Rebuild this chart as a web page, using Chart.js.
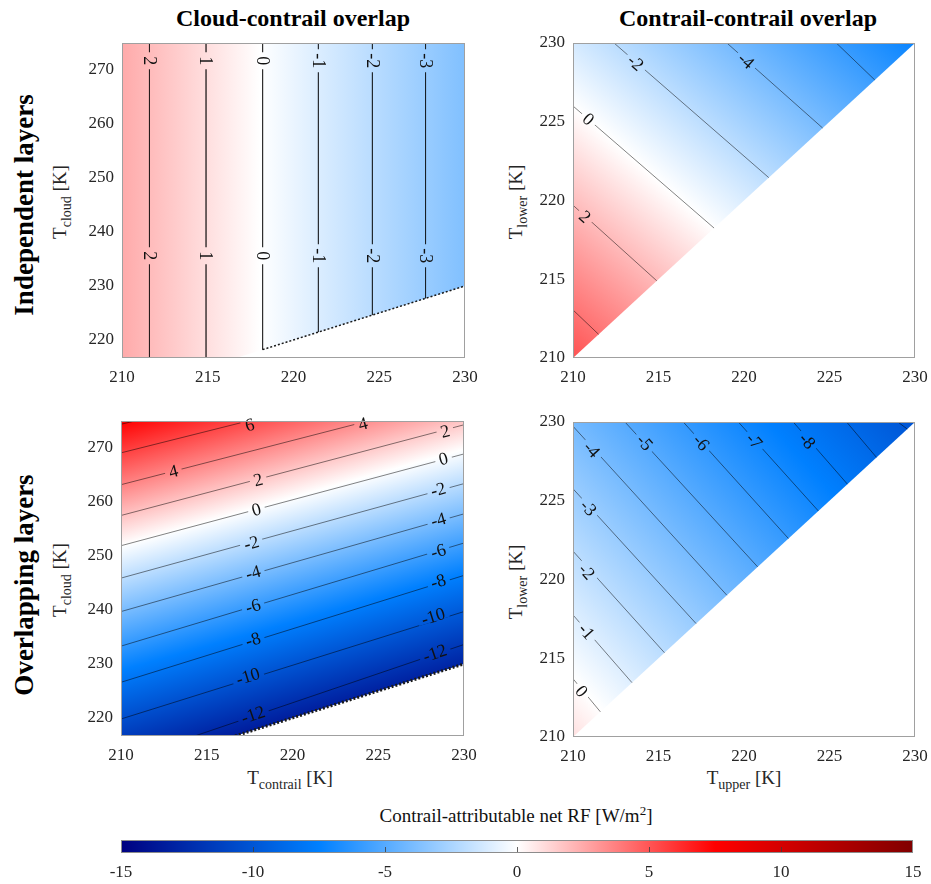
<!DOCTYPE html>
<html>
<head>
<meta charset="utf-8">
<script src="https://cdn.jsdelivr.net/npm/chart.js@4.4.1/dist/chart.umd.min.js"></script>
<style>
  html, body { margin: 0; padding: 0; background: #fff; overflow: hidden; }
  #page { position: relative; width: 931px; height: 884px; font-family: 'Liberation Serif', 'Times New Roman', serif; color: #000; }
  canvas { position: absolute; }
  .txt { position: absolute; white-space: nowrap; transform: translate(-50%, -50%); }
  .txt.rot { transform: translate(-50%, -50%) rotate(-90deg); }
  .title { font-weight: bold; font-size: 24px; }
  .row { font-weight: bold; font-size: 27px; }
  .axis { font-size: 19px; color: #262626; }
  .axis sub { font-size: 14px; vertical-align: -5px; }
  .cbar { font-size: 19px; color: #111; }
  .cbar sup { font-size: 13px; vertical-align: 7px; }
</style>
</head>
<body>
<div id="page">
  <div class="txt title" style="left:293px; top:18px;">Cloud-contrail overlap</div>
  <div class="txt title" style="left:748px; top:18px;">Contrail-contrail overlap</div>
  <div class="txt row rot" style="left:24px; top:205px;">Independent layers</div>
  <div class="txt row rot" style="left:24px; top:585px;">Overlapping layers</div>

  <div class="txt axis rot" style="left:62px; top:202px;">T<sub>cloud</sub> [K]</div>
  <div class="txt axis rot" style="left:518px; top:202px;">T<sub>lower</sub> [K]</div>
  <div class="txt axis rot" style="left:62px; top:580px;">T<sub>cloud</sub> [K]</div>
  <div class="txt axis rot" style="left:518px; top:582px;">T<sub>lower</sub> [K]</div>
  <div class="txt axis" style="left:290px; top:780px;">T<sub>contrail</sub> [K]</div>
  <div class="txt axis" style="left:744px; top:780px;">T<sub>upper</sub> [K]</div>
  <div class="txt cbar" style="left:516px; top:815px;">Contrail-attributable net RF [W/m<sup>2</sup>]</div>

  <canvas id="indepCloud" width="425" height="355" style="left:62px; top:33px;"></canvas>
  <canvas id="indepContrail" width="418" height="355" style="left:513px; top:33px;"></canvas>
  <canvas id="overlapCloud" width="425" height="355" style="left:61px; top:411px;"></canvas>
  <canvas id="overlapContrail" width="418" height="355" style="left:513px; top:412px;"></canvas>
  <canvas id="colorbar" width="832" height="53" style="left:101px; top:835px;"></canvas>
</div>

<script>
const fontFamily = "'Liberation Serif', 'Times New Roman', serif";
Chart.defaults.font.family = fontFamily;

// Colour map knots [value, colour] and colour bar ticks
const rfColormap = [[-15, '#000080'], [-7.5, '#0080ff'], [0, '#ffffff'], [7.5, '#ff0000'], [15, '#800000']];
const rfTicks = [-15, -10, -5, 0, 5, 10, 15];

// Axis ranges and ticks
const tContrailRange = [210, 230];
const tCloudRange = [216.65, 275];
const tPairRange = [210, 230];
const tContrailTicks = [210, 215, 220, 225, 230];
const tCloudTicks = [220, 230, 240, 250, 260, 270];
const tPairTicks = [210, 215, 220, 225, 230];

// Field anchors: [x, y, value, dvalue/dx, dvalue/dy]

// Independent layers, cloud-contrail
const indepCloudLevels = [2, 1, 0, -1, -2, -3];
const indepCloudLines = [
  [[211.6, 275], [211.6, 216.65]],
  [[214.9, 275], [214.9, 216.65]],
  [[218.2, 275], [218.2, 218.2]],
  [[221.45, 275], [221.45, 221.45]],
  [[224.6, 275], [224.6, 224.6]],
  [[227.7, 275], [227.7, 227.7]],
];
const indepCloudLabels = [
  [2, 211.6, 271.7], [1, 214.9, 271.7], [0, 218.2, 271.7], [-1, 221.45, 271.7], [-2, 224.6, 271.7], [-3, 227.7, 271.7],
  [2, 211.6, 235.6], [1, 214.9, 235.6], [0, 218.2, 235.6], [-1, 221.45, 235.6], [-2, 224.6, 235.6], [-3, 227.7, 235.6],
];
const indepCloudField = [211.6, 250, 2, -0.311, 0];
const indepCloudRegion = [[210, 216.65], [210, 275], [230, 275], [230, 230], [216.65, 216.65]];
const indepCloudEdge = [[218.2, 218.2], [230, 230]];

// Independent layers, contrail-contrail
const indepPairLevels = [4, 2, 0, -2, -4, -6];
const indepPairLines = [
  [[210, 213.05], [211.5, 211.5]],
  [[210, 219.7], [214.9, 214.9]],
  [[210, 226.0], [218.25, 218.25]],
  [[212.4, 230], [221.45, 221.45]],
  [[219.0, 230], [224.6, 224.6]],
  [[225.4, 230], [227.65, 227.65]],
];
const indepPairLabels = [[2, 210.7, 218.97], [0, 210.9, 225.16], [-2, 213.67, 228.75], [-4, 220.13, 228.88]];
const indepPairField = [210, 219.7, 2, -0.30, -0.317];
const pairRegion = [[210, 210], [210, 230], [230, 230]];

// Overlapping layers, cloud-contrail
const overlapCloudLevels = [8, 6, 4, 2, 0, -2, -4, -6, -8, -10, -12];
const overlapCloudLines = [
  [[210, 274.4], [210.8, 275]],
  [[210, 269.1], [217.4, 275]],
  [[210, 263.2], [224.4, 275]],
  [[210, 257.5], [230, 274.3]],
  [[210, 251.9], [230, 268.9]],
  [[210, 245.9], [230, 263.4]],
  [[210, 239.7], [230, 257.8]],
  [[210, 233.3], [230, 252.4]],
  [[210, 226.6], [230, 246.4]],
  [[210, 219.8], [230, 239.7]],
  [[214.3, 216.65], [230, 233.6]],
];
const overlapCloudLabels = [
  [6, 217.5, 274.3], [4, 213.05, 265.7], [4, 224.1, 274.5],
  [2, 218.0, 264.1], [2, 228.9, 273.1], [0, 217.9, 258.6], [0, 228.8, 268.0],
  [-2, 217.6, 252.4], [-2, 228.5, 262.3], [-4, 217.7, 246.9], [-4, 228.5, 256.7],
  [-6, 217.7, 240.7], [-6, 228.5, 250.9], [-8, 217.7, 234.5], [-8, 228.5, 245.3],
  [-10, 217.4, 227.7], [-10, 228.2, 238.8], [-12, 217.7, 220.6], [-12, 228.3, 232.0],
];
const overlapCloudField = [210, 251.9, 0, -0.29, 0.325];
const overlapCloudRegion = [[210, 216.65], [210, 275], [230, 275], [230, 230], [216.65, 216.65]];
const overlapCloudEdge = [[216.65, 216.65], [230, 230]];

// Overlapping layers, contrail-contrail
const overlapPairLevels = [0, -1, -2, -3, -4, -5, -6, -7, -8, -9, -10];
const overlapPairLines = [
  [[210, 213.7], [211.6, 211.6]],
  [[210, 217.75], [213.45, 213.45]],
  [[210, 221.8], [215.35, 215.35]],
  [[210, 225.76], [217.2, 217.2]],
  [[210, 229.73], [219.0, 219.0]],
  [[213.04, 230], [220.8, 220.8]],
  [[216.45, 230], [222.6, 222.6]],
  [[219.67, 230], [224.35, 224.35]],
  [[222.88, 230], [226.05, 226.05]],
  [[226.0, 230], [227.75, 227.75]],
  [[229.0, 230], [229.55, 229.55]],
];
const overlapPairLabels = [
  [0, 210.5, 212.9], [-1, 210.8, 216.7], [-2, 210.8, 220.5], [-3, 210.9, 224.55], [-4, 211.1, 228.25],
  [-5, 214.2, 228.7], [-6, 217.5, 228.7], [-7, 220.6, 228.8], [-8, 223.7, 228.8],
];
const overlapPairField = [210, 213.7, 0, -0.30, -0.25];

// Linear gradient across the plot that follows a field anchor
function fieldGradient(chart, field) {
  const xs = chart.scales.x, ys = chart.scales.y;
  const [x0, y0, v0, gx, gy] = field;
  const px = xs.getPixelForValue(x0), py = ys.getPixelForValue(y0);
  const GX = gx / (xs.getPixelForValue(x0 + 1) - px);
  const GY = gy / (ys.getPixelForValue(y0 + 1) - py);
  const g2 = GX * GX + GY * GY;
  const lo = rfColormap[0][0], hi = rfColormap[rfColormap.length - 1][0];
  const grad = chart.ctx.createLinearGradient(
    px + GX * (lo - v0) / g2, py + GY * (lo - v0) / g2,
    px + GX * (hi - v0) / g2, py + GY * (hi - v0) / g2);
  rfColormap.forEach(([v, c]) => grad.addColorStop((v - lo) / (hi - lo), c));
  return grad;
}

function regionPath(chart, region) {
  const ctx = chart.ctx;
  ctx.beginPath();
  region.forEach(([x, y], i) => {
    const X = chart.scales.x.getPixelForValue(x), Y = chart.scales.y.getPixelForValue(y);
    if (i) ctx.lineTo(X, Y); else ctx.moveTo(X, Y);
  });
  ctx.closePath();
}

function contourPlugin(cfg) {
  return {
    id: 'contour',
    beforeDatasetsDraw(chart) {
      const ctx = chart.ctx;
      ctx.save();
      regionPath(chart, cfg.region);
      ctx.fillStyle = fieldGradient(chart, cfg.field);
      ctx.fill();
      ctx.restore();
    },
    afterDatasetsDraw(chart) {
      const ctx = chart.ctx, xs = chart.scales.x, ys = chart.scales.y;
      const grad = fieldGradient(chart, cfg.field);
      ctx.save();
      ctx.font = '18px ' + fontFamily;
      ctx.textAlign = 'center';
      ctx.textBaseline = 'middle';
      cfg.labels.forEach(([lev, x, y]) => {
        const line = cfg.lines[cfg.levels.indexOf(lev)];
        const a = line[0], b = line[line.length - 1];
        let ang = Math.atan2(ys.getPixelForValue(b[1]) - ys.getPixelForValue(a[1]),
                             xs.getPixelForValue(b[0]) - xs.getPixelForValue(a[0]));
        if (ang > Math.PI / 2 + 1e-6) ang -= Math.PI;
        if (ang < -Math.PI / 2 + 1e-6) ang += Math.PI;
        const X = xs.getPixelForValue(x), Y = ys.getPixelForValue(y);
        const text = String(lev);
        const w = ctx.measureText(text).width;
        const base = ctx.getTransform();
        // break the contour line under the label
        ctx.save();
        ctx.translate(X, Y);
        ctx.rotate(ang);
        ctx.beginPath();
        ctx.rect(-w / 2 - 4, -5, w + 8, 10);
        ctx.setTransform(base);
        ctx.clip();
        regionPath(chart, cfg.region);
        ctx.fillStyle = grad;
        ctx.fill();
        ctx.restore();
        ctx.translate(X, Y);
        ctx.rotate(ang);
        ctx.fillStyle = '#111';
        ctx.fillText(text, 0, 1);
        ctx.setTransform(base);
      });
      ctx.restore();
    },
    afterDraw(chart) {
      const ctx = chart.ctx, a = chart.chartArea;
      ctx.save();
      ctx.strokeStyle = '#a0a0a0';
      ctx.lineWidth = 1;
      ctx.strokeRect(Math.round(a.left) + 0.5, Math.round(a.top) + 0.5,
                     Math.round(a.right - a.left) - 1, Math.round(a.bottom - a.top) - 1);
      ctx.restore();
    }
  };
}

function tickScale(range, ticks, axis) {
  return {
    type: 'linear',
    min: range[0],
    max: range[1],
    grid: { display: false, drawTicks: false },
    border: { display: false },
    ticks: { color: '#262626', font: { family: fontFamily, size: 17 }, padding: axis === 'x' ? 9 : 8, maxRotation: 0 },
    afterBuildTicks: (s) => { s.ticks = ticks.map(v => ({ value: v })); },
    afterFit: (s) => {
      // fixed axis sizes so the plot boxes land where the figure has them
      if (axis === 'x') { s.height = 30; s.paddingLeft = 0; s.paddingRight = 0; }
      else { s.width = 60; s.paddingTop = 0; s.paddingBottom = 0; }
    },
  };
}

function makePanel(id, cfg) {
  const datasets = cfg.lines.map(pts => ({
    data: pts.map(([x, y]) => ({ x, y })),
    showLine: true,
    borderColor: 'rgba(0,0,0,0.62)',
    borderWidth: 0.8,
    pointRadius: 0,
    fill: false,
  }));
  if (cfg.edge) {
    datasets.push({
      data: cfg.edge.map(([x, y]) => ({ x, y })),
      showLine: true,
      borderColor: '#1a1a1a',
      borderWidth: cfg.edgeWidth,
      borderDash: [2, 2],
      pointRadius: 0,
      fill: false,
    });
  }
  new Chart(document.getElementById(id), {
    type: 'scatter',
    data: { datasets },
    options: {
      responsive: false,
      animation: false,
      events: [],
      layout: { padding: { left: 0, top: 10, right: cfg.padRight, bottom: 0 } },
      plugins: { legend: { display: false }, tooltip: { enabled: false } },
      scales: {
        x: tickScale(cfg.xRange, cfg.xTicks, 'x'),
        y: tickScale(cfg.yRange, cfg.yTicks, 'y'),
      },
    },
    plugins: [contourPlugin(cfg)],
  });
}

makePanel('indepCloud', {
  levels: indepCloudLevels, lines: indepCloudLines, labels: indepCloudLabels,
  field: indepCloudField, region: indepCloudRegion, edge: indepCloudEdge, edgeWidth: 1.5,
  xRange: tContrailRange, yRange: tCloudRange, xTicks: tContrailTicks, yTicks: tCloudTicks, padRight: 22,
});
makePanel('indepContrail', {
  levels: indepPairLevels, lines: indepPairLines, labels: indepPairLabels,
  field: indepPairField, region: pairRegion,
  xRange: tPairRange, yRange: tPairRange, xTicks: tPairTicks, yTicks: tPairTicks, padRight: 16,
});
makePanel('overlapCloud', {
  levels: overlapCloudLevels, lines: overlapCloudLines, labels: overlapCloudLabels,
  field: overlapCloudField, region: overlapCloudRegion, edge: overlapCloudEdge, edgeWidth: 3,
  xRange: tContrailRange, yRange: tCloudRange, xTicks: tContrailTicks, yTicks: tCloudTicks, padRight: 22,
});
makePanel('overlapContrail', {
  levels: overlapPairLevels, lines: overlapPairLines, labels: overlapPairLabels,
  field: overlapPairField, region: pairRegion,
  xRange: tPairRange, yRange: tPairRange, xTicks: tPairTicks, yTicks: tPairTicks, padRight: 16,
});

// Colour bar
const colorbarPlugin = {
  id: 'colorbar',
  beforeDatasetsDraw(chart) {
    const ctx = chart.ctx, a = chart.chartArea, xs = chart.scales.x;
    const lo = rfColormap[0][0], hi = rfColormap[rfColormap.length - 1][0];
    const grad = ctx.createLinearGradient(xs.getPixelForValue(lo), 0, xs.getPixelForValue(hi), 0);
    rfColormap.forEach(([v, c]) => grad.addColorStop((v - lo) / (hi - lo), c));
    ctx.save();
    ctx.fillStyle = grad;
    ctx.fillRect(xs.getPixelForValue(lo), a.top, xs.getPixelForValue(hi) - xs.getPixelForValue(lo), a.bottom - a.top);
    ctx.strokeStyle = 'rgba(60,60,60,0.8)';
    ctx.lineWidth = 1;
    rfTicks.slice(1, -1).forEach(v => {
      const X = Math.round(xs.getPixelForValue(v)) + 0.5;
      ctx.beginPath();
      ctx.moveTo(X, a.bottom);
      ctx.lineTo(X, a.bottom - 6);
      ctx.stroke();
    });
    ctx.strokeStyle = '#8c8c8c';
    ctx.strokeRect(Math.round(a.left) + 0.5, Math.round(a.top) + 0.5,
                   Math.round(a.right - a.left) - 1, Math.round(a.bottom - a.top) - 1);
    ctx.restore();
  }
};

new Chart(document.getElementById('colorbar'), {
  type: 'scatter',
  data: { datasets: [] },
  options: {
    responsive: false,
    animation: false,
    events: [],
    layout: { padding: { left: 20, top: 5, right: 20, bottom: 0 } },
    plugins: { legend: { display: false }, tooltip: { enabled: false } },
    scales: {
      x: {
        type: 'linear', min: rfTicks[0], max: rfTicks[rfTicks.length - 1],
        grid: { display: false, drawTicks: false },
        border: { display: false },
        ticks: { color: '#262626', font: { family: fontFamily, size: 17 }, padding: 9, maxRotation: 0 },
        afterBuildTicks: (s) => { s.ticks = rfTicks.map(v => ({ value: v })); },
        afterFit: (s) => { s.height = 35; s.paddingLeft = 0; s.paddingRight = 0; },
      },
      y: { display: false, min: 0, max: 1 },
    },
  },
  plugins: [colorbarPlugin],
});
</script>
</body>
</html>
